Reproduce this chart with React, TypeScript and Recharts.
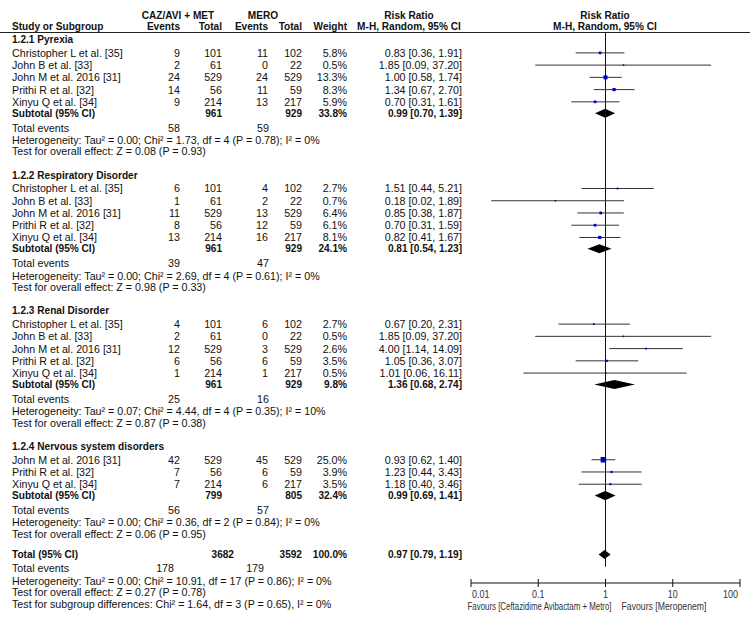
import React from "react";
import {
  ComposedChart,
  XAxis,
  YAxis,
  Scatter,
  ReferenceLine,
  ReferenceArea,
} from "recharts";

type Study = {
  name: string;
  e1: number;
  n1: number;
  e2: number;
  n2: number;
  weight: number;
  rr: number;
  lo: number;
  hi: number;
};

const subgroupTitles = [
  "1.2.1 Pyrexia",
  "1.2.2 Respiratory Disorder",
  "1.2.3 Renal Disorder",
  "1.2.4 Nervous system disorders",
];

const pyrexia: Study[] = [
  { name: "Christopher L et al. [35]", e1: 9, n1: 101, e2: 11, n2: 102, weight: 5.8, rr: 0.83, lo: 0.36, hi: 1.91 },
  { name: "John B et al. [33]", e1: 2, n1: 61, e2: 0, n2: 22, weight: 0.5, rr: 1.85, lo: 0.09, hi: 37.2 },
  { name: "John M et al. 2016 [31]", e1: 24, n1: 529, e2: 24, n2: 529, weight: 13.3, rr: 1.0, lo: 0.58, hi: 1.74 },
  { name: "Prithi R et al. [32]", e1: 14, n1: 56, e2: 11, n2: 59, weight: 8.3, rr: 1.34, lo: 0.67, hi: 2.7 },
  { name: "Xinyu Q et al. [34]", e1: 9, n1: 214, e2: 13, n2: 217, weight: 5.9, rr: 0.7, lo: 0.31, hi: 1.61 },
];

const respiratory: Study[] = [
  { name: "Christopher L et al. [35]", e1: 6, n1: 101, e2: 4, n2: 102, weight: 2.7, rr: 1.51, lo: 0.44, hi: 5.21 },
  { name: "John B et al. [33]", e1: 1, n1: 61, e2: 2, n2: 22, weight: 0.7, rr: 0.18, lo: 0.02, hi: 1.89 },
  { name: "John M et al. 2016 [31]", e1: 11, n1: 529, e2: 13, n2: 529, weight: 6.4, rr: 0.85, lo: 0.38, hi: 1.87 },
  { name: "Prithi R et al. [32]", e1: 8, n1: 56, e2: 12, n2: 59, weight: 6.1, rr: 0.7, lo: 0.31, hi: 1.59 },
  { name: "Xinyu Q et al. [34]", e1: 13, n1: 214, e2: 16, n2: 217, weight: 8.1, rr: 0.82, lo: 0.41, hi: 1.67 },
];

const renal: Study[] = [
  { name: "Christopher L et al. [35]", e1: 4, n1: 101, e2: 6, n2: 102, weight: 2.7, rr: 0.67, lo: 0.2, hi: 2.31 },
  { name: "John B et al. [33]", e1: 2, n1: 61, e2: 0, n2: 22, weight: 0.5, rr: 1.85, lo: 0.09, hi: 37.2 },
  { name: "John M et al. 2016 [31]", e1: 12, n1: 529, e2: 3, n2: 529, weight: 2.6, rr: 4.0, lo: 1.14, hi: 14.09 },
  { name: "Prithi R et al. [32]", e1: 6, n1: 56, e2: 6, n2: 59, weight: 3.5, rr: 1.05, lo: 0.36, hi: 3.07 },
  { name: "Xinyu Q et al. [34]", e1: 1, n1: 214, e2: 1, n2: 217, weight: 0.5, rr: 1.01, lo: 0.06, hi: 16.11 },
];

const nervous: Study[] = [
  { name: "John M et al. 2016 [31]", e1: 42, n1: 529, e2: 45, n2: 529, weight: 25.0, rr: 0.93, lo: 0.62, hi: 1.4 },
  { name: "Prithi R et al. [32]", e1: 7, n1: 56, e2: 6, n2: 59, weight: 3.9, rr: 1.23, lo: 0.44, hi: 3.43 },
  { name: "Xinyu Q et al. [34]", e1: 7, n1: 214, e2: 6, n2: 217, weight: 3.5, rr: 1.18, lo: 0.4, hi: 3.46 },
];

const subgroupStudies = [pyrexia, respiratory, renal, nervous];

// pooled results per subgroup: totals, weight, RR [95% CI]
const subtotals = [
  { n1: 961, n2: 929, weight: 33.8, rr: 0.99, lo: 0.7, hi: 1.39 },
  { n1: 961, n2: 929, weight: 24.1, rr: 0.81, lo: 0.54, hi: 1.23 },
  { n1: 961, n2: 929, weight: 9.8, rr: 1.36, lo: 0.68, hi: 2.74 },
  { n1: 799, n2: 805, weight: 32.4, rr: 0.99, lo: 0.69, hi: 1.41 },
];
const subtotalEvents = [
  [58, 59],
  [39, 47],
  [25, 16],
  [56, 57],
];
const heterogeneity = [
  "Heterogeneity: Tau² = 0.00; Chi² = 1.73, df = 4 (P = 0.78); I² = 0%",
  "Heterogeneity: Tau² = 0.00; Chi² = 2.69, df = 4 (P = 0.61); I² = 0%",
  "Heterogeneity: Tau² = 0.07; Chi² = 4.44, df = 4 (P = 0.35); I² = 10%",
  "Heterogeneity: Tau² = 0.00; Chi² = 0.36, df = 2 (P = 0.84); I² = 0%",
];
const overallEffect = [
  "Test for overall effect: Z = 0.08 (P = 0.93)",
  "Test for overall effect: Z = 0.98 (P = 0.33)",
  "Test for overall effect: Z = 0.87 (P = 0.38)",
  "Test for overall effect: Z = 0.06 (P = 0.95)",
];

const total = { n1: 3682, n2: 3592, weight: 100.0, rr: 0.97, lo: 0.79, hi: 1.19 };
const totalEvents = [178, 179];
const totalNotes = [
  "Heterogeneity: Tau² = 0.00; Chi² = 10.91, df = 17 (P = 0.86); I² = 0%",
  "Test for overall effect: Z = 0.27 (P = 0.78)",
  "Test for subgroup differences: Chi² = 1.64, df = 3 (P = 0.65), I² = 0%",
];

const xTicks = [0.01, 0.1, 1, 10, 100];
const favours = ["Favours [Ceftazidime Avibactam + Metro]", "Favours [Meropenem]"];

// ---- layout ----
const W = 750;
const H = 618;
const PLOT_LEFT = 471;
const PLOT_RIGHT = 740;
const AXIS_Y = 583;
const ROW_PX = 12.24;
const Y_MAX = AXIS_Y / ROW_PX;

const FONT = "'Liberation Sans', Arial, Helvetica, sans-serif";
const COL = { name: 12, e1: 180, n1: 222, e2: 268, n2: 302, w: 347, rr: 462, g1: 178, g2: 263, rrHead: 409, plotHead: 605 };

const fmt = (v: number) => v.toFixed(2);
const ciText = (s: { rr: number; lo: number; hi: number }) => `${fmt(s.rr)} [${fmt(s.lo)}, ${fmt(s.hi)}]`;
const pct = (w: number) => `${w.toFixed(1)}%`;

type Row = { pos: number; kind: string; [k: string]: any };

function buildRows() {
  const rows: Row[] = [];
  rows.push({ pos: 1.23, kind: "head1" });
  rows.push({ pos: 2.19, kind: "head2" });
  let p = 3.22;
  subgroupStudies.forEach((studies, g) => {
    rows.push({ pos: p, kind: "group", label: subgroupTitles[g] });
    p += 1.1;
    studies.forEach((s, i) => {
      rows.push({ pos: p, kind: "study", s });
      if (i < studies.length - 1) p += 1;
    });
    p += 0.93;
    rows.push({ pos: p, kind: "subtotal", label: "Subtotal (95% CI)", s: subtotals[g] });
    p += 1.17;
    rows.push({ pos: p, kind: "events", ev: subtotalEvents[g], r1: COL.e1, r2: 269 });
    p += 1.02;
    rows.push({ pos: p, kind: "note", label: heterogeneity[g] });
    p += 0.93;
    rows.push({ pos: p, kind: "note", label: overallEffect[g] });
    p += g < subgroupStudies.length - 1 ? 1.93 : 1.7;
  });
  rows.push({ pos: p, kind: "total", label: "Total (95% CI)", s: total });
  p += 1.1;
  rows.push({ pos: p, kind: "events", ev: totalEvents, r1: 174, r2: 264 });
  totalNotes.forEach((t, i) => {
    p += i === 0 ? 1.04 : 0.95;
    rows.push({ pos: p, kind: "note", label: t });
  });
  return rows;
}

const rows = buildRows();
const rowByPos = new Map(rows.map((r) => [r.pos, r]));
const studyPoints = rows.filter((r) => r.kind === "study").map((r) => ({ ...r.s, pos: r.pos }));
const pooledRows = rows.filter((r) => r.kind === "subtotal" || r.kind === "total");

const T = ({ x, y, anchor = "start", bold = false, children }: any) => (
  <text
    x={x}
    y={y}
    textAnchor={anchor}
    dominantBaseline="central"
    fontFamily={FONT}
    fontSize={bold ? 10.1 : 10.7}
    fontWeight={bold ? 700 : 400}
    fill="#111"
  >
    {children}
  </text>
);

// condensed caption text: squeezed horizontally, optionally to a fixed width
const Narrow = ({ x, y, anchor, width, size = 10, sx = 0.76, children }: any) => (
  <text
    transform={`translate(${x},${y}) scale(${sx},1)`}
    textAnchor={anchor}
    dominantBaseline="central"
    fontFamily={FONT}
    fontSize={size}
    fill="#333"
    textLength={width ? width / sx : undefined}
    lengthAdjust={width ? "spacingAndGlyphs" : undefined}
  >
    {children}
  </text>
);

// one table row per Y tick
function RowTick(props: any) {
  const { y, payload } = props;
  const row = rowByPos.get(payload.value);
  if (!row) return null;
  switch (row.kind) {
    case "head1":
      return (
        <g>
          <T x={COL.g1} y={y} anchor="middle" bold>CAZ/AVI + MET</T>
          <T x={COL.g2} y={y} anchor="middle" bold>MERO</T>
          <T x={COL.rrHead} y={y} anchor="middle" bold>Risk Ratio</T>
          <T x={COL.plotHead} y={y} anchor="middle" bold>Risk Ratio</T>
        </g>
      );
    case "head2":
      return (
        <g>
          <T x={COL.name} y={y} bold>Study or Subgroup</T>
          <T x={COL.e1} y={y} anchor="end" bold>Events</T>
          <T x={COL.n1} y={y} anchor="end" bold>Total</T>
          <T x={COL.e2} y={y} anchor="end" bold>Events</T>
          <T x={COL.n2} y={y} anchor="end" bold>Total</T>
          <T x={COL.w} y={y} anchor="end" bold>Weight</T>
          <T x={COL.rrHead} y={y} anchor="middle" bold>M-H, Random, 95% CI</T>
          <T x={COL.plotHead} y={y} anchor="middle" bold>M-H, Random, 95% CI</T>
          <line x1={0} x2={W} y1={y + 5.7} y2={y + 5.7} stroke="#222" strokeWidth={1} />
        </g>
      );
    case "group":
      return <T x={COL.name} y={y} bold>{row.label}</T>;
    case "study": {
      const s = row.s as Study;
      return (
        <g>
          <T x={COL.name} y={y}>{s.name}</T>
          <T x={COL.e1} y={y} anchor="end">{s.e1}</T>
          <T x={COL.n1} y={y} anchor="end">{s.n1}</T>
          <T x={COL.e2} y={y} anchor="end">{s.e2}</T>
          <T x={COL.n2} y={y} anchor="end">{s.n2}</T>
          <T x={COL.w} y={y} anchor="end">{pct(s.weight)}</T>
          <T x={COL.rr} y={y} anchor="end">{ciText(s)}</T>
        </g>
      );
    }
    case "subtotal":
    case "total": {
      const s = row.s;
      const isTotal = row.kind === "total";
      return (
        <g>
          <T x={COL.name} y={y} bold>{row.label}</T>
          <T x={isTotal ? 234 : COL.n1} y={y} anchor="end" bold>{s.n1}</T>
          <T x={COL.n2} y={y} anchor="end" bold>{s.n2}</T>
          <T x={COL.w} y={y} anchor="end" bold>{pct(s.weight)}</T>
          <T x={COL.rr} y={y} anchor="end" bold>{ciText(s)}</T>
        </g>
      );
    }
    case "events":
      return (
        <g>
          <T x={COL.name} y={y}>Total events</T>
          <T x={row.r1} y={y} anchor="end">{row.ev[0]}</T>
          <T x={row.r2} y={y} anchor="end">{row.ev[1]}</T>
        </g>
      );
    default:
      return <T x={COL.name} y={y}>{row.label}</T>;
  }
}

function LogTick(props: any) {
  const { x, y, payload } = props;
  const v = payload.value;
  const anchor = v === xTicks[0] ? "start" : v === xTicks[xTicks.length - 1] ? "end" : "middle";
  const dx = anchor === "start" ? 1 : anchor === "end" ? -2 : 0;
  return (
    <g>
      <line x1={x} x2={x} y1={y - 4} y2={y + 4} stroke="#111" />
      <Narrow x={x + dx} y={y + 11} anchor={anchor} size={11.5} sx={0.78}>
        {String(v)}
      </Narrow>
    </g>
  );
}

function FavoursLabel(props: any) {
  const vb = props.viewBox || { x: PLOT_LEFT, width: PLOT_RIGHT - PLOT_LEFT };
  const frac = (Math.log10(1) - Math.log10(xTicks[0])) / (Math.log10(xTicks[4]) - Math.log10(xTicks[0]));
  const mid = vb.x + vb.width * frac;
  return (
    <g>
      <Narrow x={mid + 6} y={607} anchor="end" width={144}>
        {favours[0]}
      </Narrow>
      <Narrow x={mid + 16} y={607} anchor="start" width={85}>
        {favours[1]}
      </Narrow>
    </g>
  );
}

const StudyBox = (p: any) => {
  const s = Math.max(1.6, Math.sqrt(p.payload.weight) * 1.1);
  return <rect x={p.cx - s / 2} y={p.cy - s / 2} width={s} height={s} fill="#0000cc" />;
};

const diamond = (rr: number, lo: number, hi: number) => (p: any) => {
  const f = Math.log(rr / lo) / Math.log(hi / lo);
  const { x, y, width, height } = p;
  const cx = x + width * f;
  const cy = y + height / 2;
  return <polygon points={`${x},${cy} ${cx},${y} ${x + width},${cy} ${cx},${y + height}`} fill="#000" />;
};

export default function App() {
  return (
    <div style={{ position: "absolute", left: 0, top: 0, background: "#fff" }}>
      <ComposedChart width={W} height={H} data={studyPoints} margin={{ top: 0, right: W - PLOT_RIGHT, bottom: 0, left: 0 }}>
        <XAxis
          dataKey="rr"
          type="number"
          scale="log"
          domain={[xTicks[0], xTicks[xTicks.length - 1]]}
          ticks={xTicks}
          allowDataOverflow
          interval={0}
          height={H - AXIS_Y}
          tickSize={0}
          tickMargin={0}
          tick={LogTick}
          axisLine={{ stroke: "#111" }}
          label={{ content: FavoursLabel }}
        />
        <YAxis
          dataKey="pos"
          type="number"
          reversed
          domain={[0, Y_MAX]}
          allowDataOverflow
          ticks={rows.map((r) => r.pos)}
          interval={0}
          width={PLOT_LEFT}
          tickSize={0}
          tickMargin={0}
          axisLine={false}
          tick={RowTick}
        />
        <ReferenceLine segment={[{ x: 1, y: 2.65 }, { x: 1, y: 46.3 }]} stroke="#111" strokeWidth={1} />
        {studyPoints.map((s, i) => (
          <ReferenceLine
            key={`ci-${i}`}
            segment={[{ x: s.lo, y: s.pos }, { x: s.hi, y: s.pos }]}
            stroke="#333"
            strokeWidth={1}
          />
        ))}
        {pooledRows.map((r, i) => (
          <ReferenceArea
            key={`pool-${i}`}
            x1={r.s.lo}
            x2={r.s.hi}
            y1={r.pos - 0.37}
            y2={r.pos + 0.37}
            shape={diamond(r.s.rr, r.s.lo, r.s.hi)}
          />
        ))}
        <Scatter data={studyPoints} dataKey="pos" shape={StudyBox} isAnimationActive={false} />
      </ComposedChart>
    </div>
  );
}
